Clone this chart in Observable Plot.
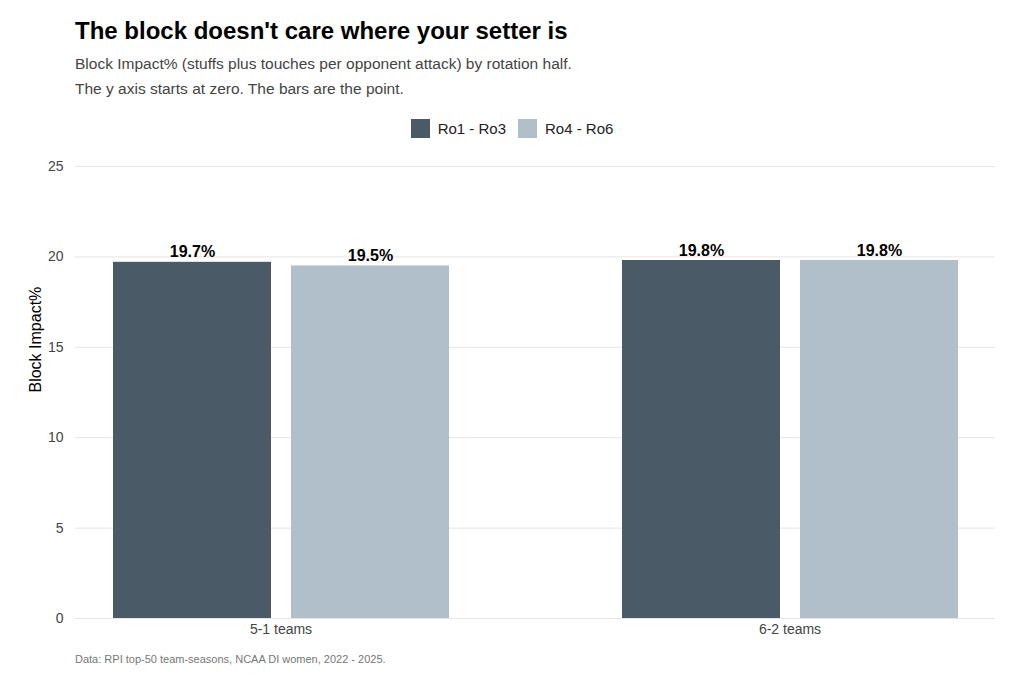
<!DOCTYPE html>
<html><head><meta charset="utf-8">
<script src="https://cdn.jsdelivr.net/npm/d3@7"></script>
<script src="https://cdn.jsdelivr.net/npm/@observablehq/plot@0.6"></script>
<style>
body{margin:0;background:#fff;font-family:"Liberation Sans",Arial,sans-serif;width:1024px;height:683px;overflow:hidden}
#t{position:absolute;left:75px;top:17px;font-size:24px;font-weight:bold;color:#000}
#s{position:absolute;left:75px;top:51px;font-size:15.5px;color:#444;line-height:25px}
#l{position:absolute;top:119px;left:0;width:1024px;text-align:center;font-size:15px;color:#222}
#l span.k{display:inline-block;width:19px;height:19px;vertical-align:-4px;margin-right:8px}
#c{position:absolute;left:75px;top:653px;font-size:11px;color:#777}
.p{position:absolute;left:0;top:150px}
.p svg{background:transparent!important}
</style></head><body>
<div id="t">The block doesn't care where your setter is</div>
<div id="s">Block Impact% (stuffs plus touches per opponent attack) by rotation half.<br>The y axis starts at zero. The bars are the point.</div>
<div id="l"><span class="k" style="background:#4a5a67"></span>Ro1 - Ro3<span style="display:inline-block;width:12px"></span><span class="k" style="background:#b0bfc9"></span>Ro4 - Ro6</div>
<div class="p" id="bg"></div>
<div class="p" id="fg"></div>
<div id="c">Data: RPI top-50 team-seasons, NCAA DI women, 2022 - 2025.</div>
<script>
const groups = ["5-1 teams","6-2 teams"];
const series = ["Ro1 - Ro3","Ro4 - Ro6"];
const values51 = [19.7,19.5];
const values62 = [19.8,19.8];
const yTicks = [0,5,10,15,20,25];
const data = [];
[values51,values62].forEach((vals,gi)=>vals.forEach((v,si)=>data.push({group:groups[gi],series:series[si],value:v})));
const common = {width:1024,height:503,marginTop:16,marginBottom:35,marginLeft:75,marginRight:29,
  style:{fontFamily:"Liberation Sans, Arial, sans-serif",fontSize:"14px",color:"#444",background:"transparent"}};
const bg = Plot.plot({...common,
  x:{axis:null,domain:[0,1]},
  y:{domain:[0,25],ticks:yTicks,label:null,tickSize:0,tickPadding:12},
  marks:[
    Plot.gridY(yTicks,{stroke:"#e5e5e5",strokeOpacity:1}),
    Plot.text(["Block Impact%"],{frameAnchor:"left",dx:-40,rotate:-90,fontSize:16,fill:"#000"})
  ]});
const fg = Plot.plot({...common,
  fx:{domain:groups,padding:0.196,label:null,axis:"bottom",tickSize:0,tickPadding:6},
  x:{domain:series,paddingInner:0.115,paddingOuter:0.2,axis:null},
  y:{domain:[0,25],axis:null},
  color:{domain:series,range:["#4a5a67","#b0bfc9"]},
  marks:[
    Plot.barY(data,{fx:"group",x:"series",y:"value",fill:"series"}),
    Plot.text(data,{fx:"group",x:"series",y:"value",text:d=>d.value.toFixed(1)+"%",dy:-10,fontWeight:"bold",fontSize:16,fill:"#000"})
  ]});
document.getElementById("bg").appendChild(bg);
document.getElementById("fg").appendChild(fg);
</script>
</body></html>
